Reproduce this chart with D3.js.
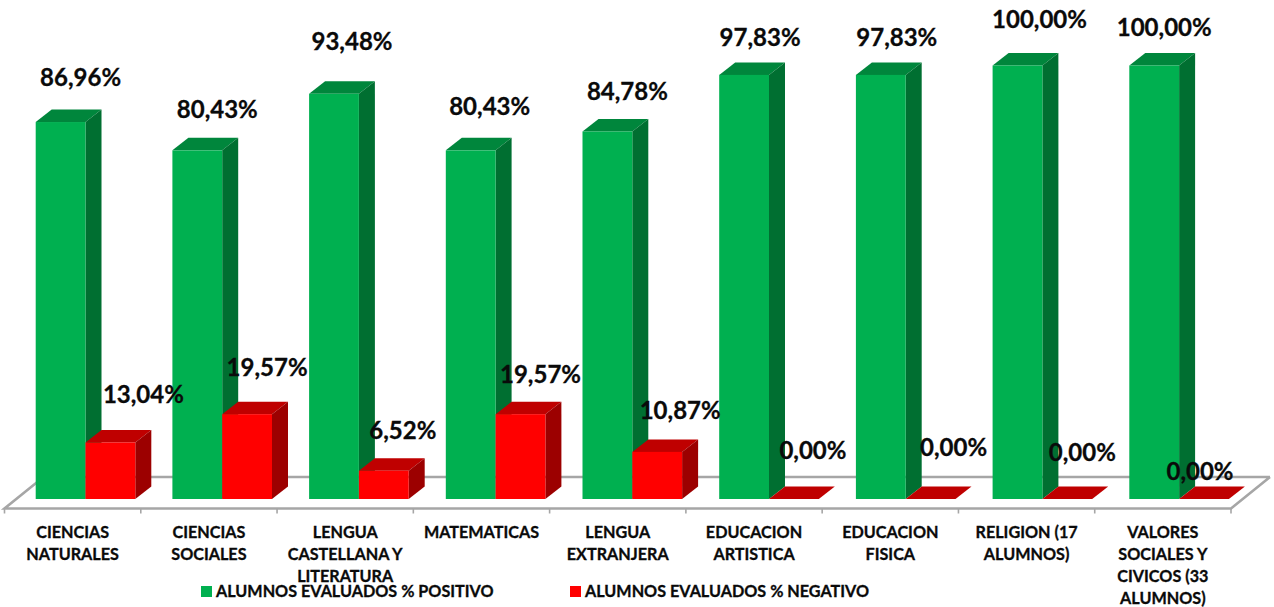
<!DOCTYPE html>
<html><head><meta charset="utf-8">
<script src="https://cdn.jsdelivr.net/npm/d3@7/dist/d3.min.js"></script>
<style>html,body{margin:0;background:#fff}svg{display:block}text{font-family:Lato,"Open Sans",sans-serif;font-weight:700;fill:#0a0a0a;stroke:#0a0a0a;stroke-width:.3px}</style>
</head><body><div id="c"></div>
<script>
const categories = ["CIENCIAS NATURALES","CIENCIAS SOCIALES","LENGUA CASTELLANA Y LITERATURA","MATEMATICAS","LENGUA EXTRANJERA","EDUCACION ARTISTICA","EDUCACION FISICA","RELIGION (17 ALUMNOS)","VALORES SOCIALES Y CIVICOS (33 ALUMNOS)"];
const categoryLines = [["CIENCIAS","NATURALES"],["CIENCIAS","SOCIALES"],["LENGUA","CASTELLANA Y","LITERATURA"],["MATEMATICAS"],["LENGUA","EXTRANJERA"],["EDUCACION","ARTISTICA"],["EDUCACION","FISICA"],["RELIGION (17","ALUMNOS)"],["VALORES","SOCIALES Y","CIVICOS (33","ALUMNOS)"]];
const positivo = [86.96,80.43,93.48,80.43,84.78,97.83,97.83,100,100];
const negativo = [13.04,19.57,6.52,19.57,10.87,0,0,0,0];
const seriesNames = ["ALUMNOS EVALUADOS % POSITIVO","ALUMNOS EVALUADOS % NEGATIVO"];
// hand-placed data label positions, as the reference's labels were moved by hand
const posNudge = [[4,-36],[4,-32],[2,-44],[3,-35],[4,-31],[0,-29],[0,-29],[6,-38],[-6,-30]];
const negNudge = [[17,-39],[4,-38],[3,-32],[4,-31],[7,-33],[3,-40],[7,-43],[-1,-38],[-20,-19]];

const W=1274,H=607, depthX=16, depthY=12.5;
const svg=d3.select("#c").append("svg").attr("width",W).attr("height",H);
const x=d3.scaleBand().domain(categories).range([4.5,1231]);
const xBars=d3.scaleBand().domain(categories).range([35.7,35.7+9*136.7]);
const sub=d3.scaleBand().domain([0,1]).range([0,99.6]);
const y=d3.scaleLinear().domain([0,100]).range([499,65.5]);
const floorFront=508.5, floorBack=477, floorColor="#a6a6a6";

// floor
const floor=svg.append("g").attr("fill","none").attr("stroke",floorColor).attr("stroke-width",2.6);
floor.append("path").attr("d",d3.line()([[x.range()[1]+39,floorBack],[x.range()[1],floorFront],[x.range()[0],floorFront],[x.range()[0]+39,floorBack],[x.range()[1]+39,floorBack]]));
const axis=svg.append("g").attr("transform",`translate(0,${floorFront})`).call(d3.axisBottom(x).tickSize(0).tickFormat(""));
axis.select(".domain").remove();
d3.range(categories.length+1).forEach(i=>{
  const tx=x.range()[0]+i*x.step();
  floor.append("line").attr("x1",tx).attr("x2",tx).attr("y1",floorFront).attr("y2",floorFront+5).attr("stroke-width",1.6);
});

function bar3d(g,bx,w,val,cFront,cTop,cSide){
  const t=y(val), b=y(0);
  g.append("path").attr("fill",cTop).attr("d",d3.line()([[bx,t],[bx+depthX,t-depthY],[bx+w+depthX,t-depthY],[bx+w,t]])+"Z");
  if(b-t>0){
    g.append("path").attr("fill",cSide).attr("d",d3.line()([[bx+w,t],[bx+w+depthX,t-depthY],[bx+w+depthX,b-depthY],[bx+w,b]])+"Z");
    g.append("rect").attr("x",bx).attr("y",t).attr("width",w).attr("height",b-t).attr("fill",cFront);
  }
}
const bars=svg.append("g");
categories.forEach((c,i)=>{
  bar3d(bars,xBars(c)+sub(0),sub.bandwidth(),positivo[i],"#00b050","#00863c","#006f31");
  bar3d(bars,xBars(c)+sub(1),sub.bandwidth(),negativo[i],"#ff0000","#bf0000","#9c0000");
});

// tick labels
categories.forEach((c,i)=>{
  const t=svg.append("text").attr("text-anchor","middle").attr("font-size",16.2);
  categoryLines[i].forEach((l,k)=>t.append("tspan").attr("x",x(c)+x.bandwidth()/2).attr("y",537.5+k*22.3).text(l));
});

// data labels
const fmt=v=>v.toFixed(2).replace(".",",")+"%";
const labels=svg.append("g").attr("font-size",24).attr("text-anchor","middle");
categories.forEach((c,i)=>{
  const w=sub.bandwidth();
  const gx=xBars(c)+sub(0)+w/2+depthX, rx=xBars(c)+sub(1)+w/2+depthX;
  labels.append("text").attr("x",gx+posNudge[i][0]).attr("y",y(positivo[i])+posNudge[i][1]).text(fmt(positivo[i]));
  labels.append("text").attr("x",rx+negNudge[i][0]).attr("y",y(negativo[i])+negNudge[i][1]).text(fmt(negativo[i]));
});

// legend
const legX=[201,570], legC=["#00b050","#ff0000"];
seriesNames.forEach((n,i)=>{
  svg.append("rect").attr("x",legX[i]).attr("y",586).attr("width",11).attr("height",11).attr("fill",legC[i]);
  svg.append("text").attr("x",legX[i]+15).attr("y",597).attr("font-size",16.2).text(n);
});
</script></body></html>
